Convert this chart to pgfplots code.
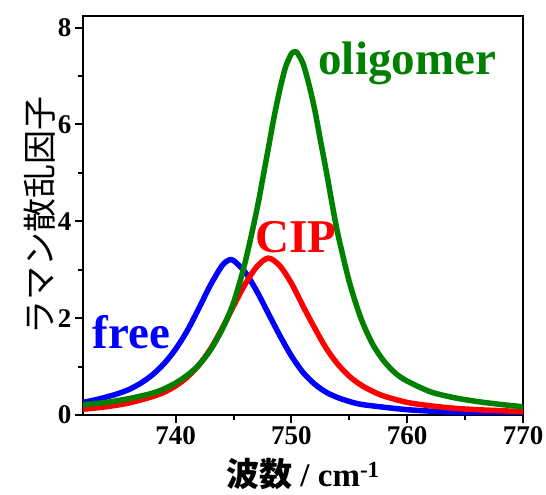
\documentclass[border=0pt]{standalone}
\usepackage{fontspec}
\setmainfont{Liberation Serif}
\newfontfamily\jp{Noto Sans CJK JP}
\usepackage{pgfplots}
\pgfplotsset{compat=1.18}

\definecolor{cfree}{RGB}{0,0,255}
\definecolor{ccip}{RGB}{255,0,0}
\definecolor{colig}{RGB}{0,128,0}

\begin{document}
\begin{tikzpicture}
% page frame: 546 x 495, axis box 440 x 399
\path[use as bounding box] (-83pt,-80pt) rectangle (463pt,415pt);
\begin{axis}[
  scale only axis,
  width=440pt, height=399pt,
  xmin=732, xmax=770,
  ymin=0, ymax=8.24,
  xtick={740,750,760,770},
  ytick={0,2,4,6,8},
  minor x tick num=1,
  minor y tick num=1,
  tick align=outside,
  xtick pos=bottom, ytick pos=left,
  major tick length=8pt,
  minor tick length=5pt,
  every tick/.style={line width=2pt,black},
  axis line style={line width=2.5pt},
  /pgf/number format/assume math mode=true,
  ticklabel style={font=\bfseries\fontsize{27pt}{30pt}\selectfont},
  xlabel={{\jp\bfseries 波数} \bfseries / cm\textsuperscript{-1}},
  ylabel={\jp ラマン散乱因子},
  xlabel style={font=\fontsize{33pt}{36pt}\selectfont, yshift=-7pt},
  ylabel style={font=\fontsize{34pt}{36pt}\selectfont, yshift=-4pt},
  every axis plot/.append style={line width=5.5pt, smooth, line join=round},
  clip=true,
]
% free
\addplot[cfree] coordinates {
(732,0.26) (733,0.31) (734,0.37) (735,0.44) (736,0.53) (737,0.66) (738,0.83)
(739,1.06) (740,1.36) (741,1.74) (742,2.20) (743,2.68) (744,3.08) (744.6,3.20)
(745,3.19) (746,2.95) (747,2.56) (748,2.10) (749,1.64) (750,1.22) (751,0.88)
(752,0.64) (753,0.47) (754,0.36) (755,0.28) (756,0.22) (758,0.16) (760,0.11)
(762,0.08) (764,0.06) (766,0.05) (768,0.04) (770,0.035)
};
% CIP
\addplot[ccip] coordinates {
(732,0.12) (734,0.17) (736,0.25) (738,0.38) (739,0.47) (740,0.60) (741,0.78)
(742,1.03) (743,1.36) (744,1.78) (745,2.25) (746,2.70) (747,3.06) (748,3.24)
(749,3.08) (750,2.72) (751,2.25) (752,1.80) (753,1.38) (754,1.05) (755,0.80)
(756,0.62) (757,0.49) (758,0.39) (760,0.26) (762,0.19) (764,0.14) (766,0.11)
(768,0.09) (770,0.07)
};
% oligomer
\addplot[colig] coordinates {
(732,0.21) (734,0.26) (736,0.34) (738,0.45) (739,0.54) (740,0.66) (741,0.82)
(742,1.03) (743,1.34) (744,1.76) (745,2.32) (746,3.15) (747,4.22) (747.5,4.85)
(748,5.50) (748.5,6.15) (749,6.72) (749.5,7.19) (750,7.46) (750.3,7.50)
(750.5,7.48) (751,7.26) (751.5,6.84) (752,6.32) (752.5,5.68) (753,5.05)
(753.5,4.38) (754,3.75) (755,2.75) (756,2.00) (757,1.47) (758,1.11) (759,0.86)
(760,0.70) (762,0.48) (764,0.36) (766,0.28) (768,0.22) (770,0.17)
};
\node[cfree, font=\bfseries\fontsize{47pt}{50pt}\selectfont] at (axis cs:736.2,1.72) {free};
\node[ccip, font=\bfseries\fontsize{47pt}{50pt}\selectfont] at (axis cs:750.4,3.68) {CIP};
\node[colig, font=\bfseries\fontsize{47pt}{50pt}\selectfont] at (axis cs:760.0,7.26) {oligomer};
\end{axis}
\end{tikzpicture}
\end{document}
